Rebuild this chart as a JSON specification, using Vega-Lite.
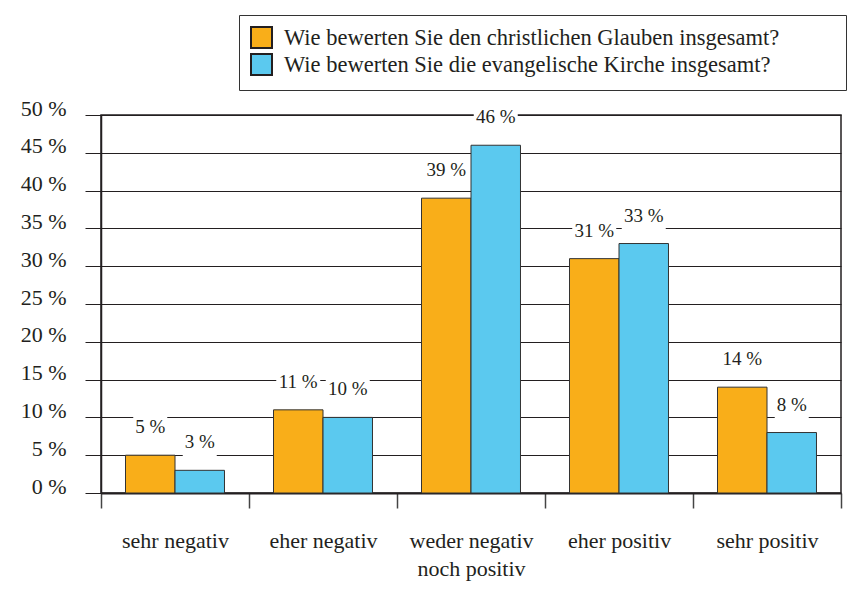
{
  "$schema": "https://vega.github.io/schema/vega-lite/v6.json",
  "width": 740,
  "height": 378,
  "autosize": {"type": "none"},
  "padding": {"left": 101, "top": 115, "right": 13, "bottom": 98},
  "background": "white",
  "config": {
    "view": {"stroke": "#231f20", "strokeWidth": 1.5},
    "font": "Liberation Serif"
  },
  "data": {
    "values": [
      {"category": "sehr negativ", "question": "Wie bewerten Sie den christlichen Glauben insgesamt?", "value": 5},
      {"category": "sehr negativ", "question": "Wie bewerten Sie die evangelische Kirche insgesamt?", "value": 3},
      {"category": "eher negativ", "question": "Wie bewerten Sie den christlichen Glauben insgesamt?", "value": 11},
      {"category": "eher negativ", "question": "Wie bewerten Sie die evangelische Kirche insgesamt?", "value": 10},
      {"category": "weder negativ noch positiv", "question": "Wie bewerten Sie den christlichen Glauben insgesamt?", "value": 39},
      {"category": "weder negativ noch positiv", "question": "Wie bewerten Sie die evangelische Kirche insgesamt?", "value": 46},
      {"category": "eher positiv", "question": "Wie bewerten Sie den christlichen Glauben insgesamt?", "value": 31},
      {"category": "eher positiv", "question": "Wie bewerten Sie die evangelische Kirche insgesamt?", "value": 33},
      {"category": "sehr positiv", "question": "Wie bewerten Sie den christlichen Glauben insgesamt?", "value": 14},
      {"category": "sehr positiv", "question": "Wie bewerten Sie die evangelische Kirche insgesamt?", "value": 8}
    ]
  },
  "encoding": {
    "x": {
      "field": "category",
      "type": "nominal",
      "sort": null,
      "scale": {"paddingInner": 0, "paddingOuter": 0},
      "axis": {
        "title": null,
        "grid": false,
        "tickBand": "extent",
        "tickSize": 15,
        "tickColor": "#444444",
        "tickWidth": 1.5,
        "domainColor": "#231f20",
        "domainWidth": 2,
        "labelAngle": 0,
        "labelFont": "Liberation Serif",
        "labelFontSize": 22,
        "labelColor": "#231f20",
        "labelPadding": 22,
        "labelLineHeight": 28,
        "labelExpr": "datum.label == 'weder negativ noch positiv' ? ['weder negativ', 'noch positiv'] : datum.label"
      }
    },
    "xOffset": {
      "field": "question",
      "type": "nominal",
      "sort": null,
      "scale": {"paddingInner": 0, "paddingOuter": 0.495}
    },
    "y": {
      "field": "value",
      "type": "quantitative",
      "scale": {"domain": [0, 50], "nice": false},
      "axis": {
        "title": null,
        "values": [0, 5, 10, 15, 20, 25, 30, 35, 40, 45, 50],
        "labelExpr": "datum.value + ' %'",
        "grid": true,
        "gridColor": "#231f20",
        "gridWidth": 1,
        "gridOpacity": 1,
        "tickSize": 16,
        "tickColor": "#231f20",
        "tickWidth": 1,
        "domainColor": "#231f20",
        "domainWidth": 1.5,
        "labelFont": "Liberation Serif",
        "labelFontSize": 22,
        "labelColor": "#231f20",
        "labelPadding": 19,
        "labelBaseline": "alphabetic"
      }
    }
  },
  "layer": [
    {
      "mark": {"type": "point", "filled": true, "color": "white", "opacity": 1, "size": 4, "yOffset": -22, "strokeWidth": 0},
      "encoding": {
        "shape": {
          "condition": {"test": "datum.value < 10", "value": "M-17,-19H17V8H-17Z"},
          "value": "M-22,-19H22V8H-22Z"
        }
      }
    },
    {
      "mark": {"type": "bar", "stroke": "#333333", "strokeWidth": 1},
      "encoding": {
        "color": {
          "field": "question",
          "type": "nominal",
          "sort": null,
          "scale": {
            "domain": ["Wie bewerten Sie den christlichen Glauben insgesamt?", "Wie bewerten Sie die evangelische Kirche insgesamt?"],
            "range": ["#F9AE19", "#5BC9EF"]
          },
          "legend": {
            "title": null,
            "orient": "none",
            "legendX": 138,
            "legendY": -100,
            "symbolType": "M-1,-1H1V1H-1Z M54.2,0",
            "symbolSize": 441,
            "symbolStrokeColor": "#231f20",
            "symbolStrokeWidth": 2,
            "symbolOpacity": 1,
            "labelFont": "Liberation Serif",
            "labelFontSize": 22.5,
            "labelColor": "#231f20",
            "labelOffset": 11,
            "labelLimit": 800,
            "padding": 11,
            "rowPadding": -2,
            "strokeColor": "#333333",
            "fillColor": "white"
          }
        }
      }
    },
    {
      "transform": [{"calculate": "datum.value + ' %'", "as": "label"}],
      "mark": {"type": "text", "yOffset": -22, "baseline": "alphabetic", "align": "center", "font": "Liberation Serif", "fontSize": 19, "color": "#231f20"},
      "encoding": {
        "text": {"field": "label", "type": "nominal"}
      }
    }
  ]
}
